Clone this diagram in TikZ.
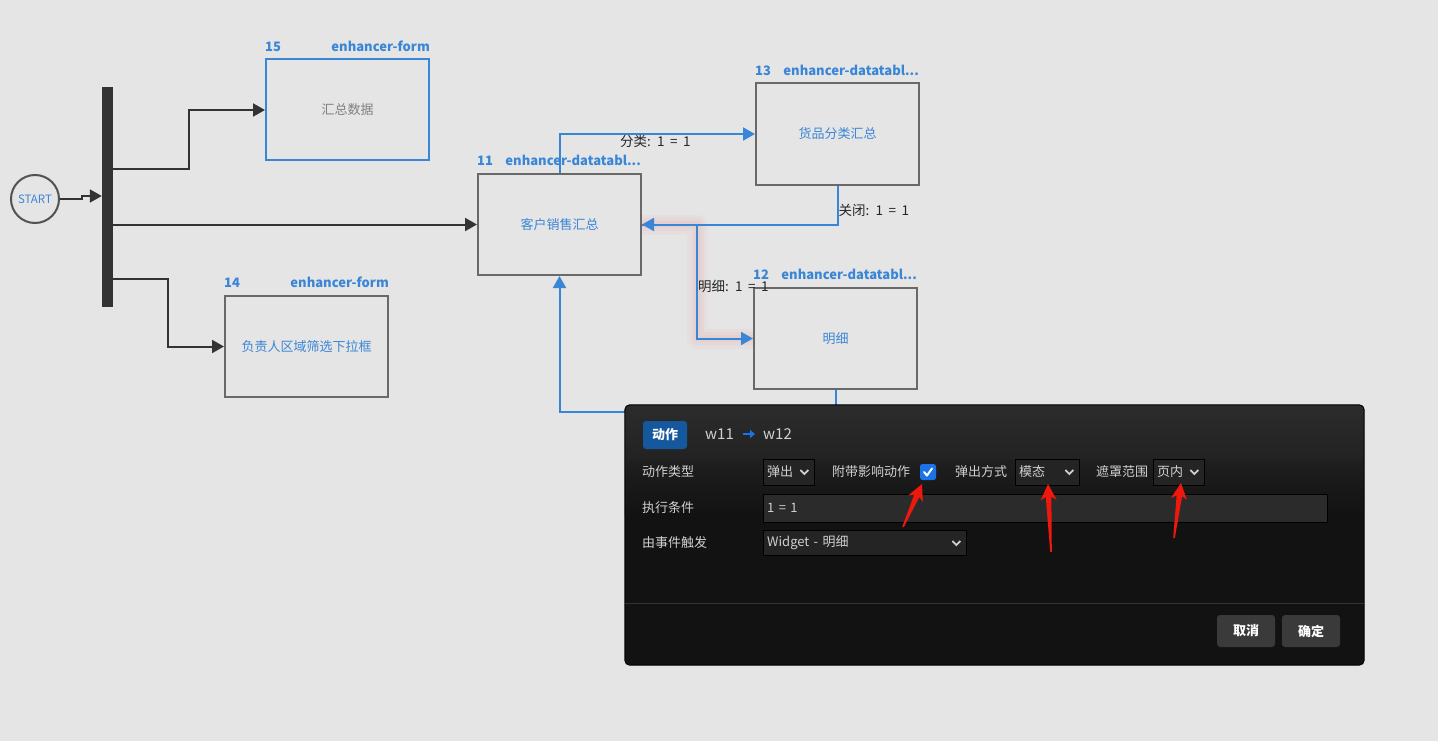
\documentclass[tikz,border=0pt]{standalone}
\usepackage{fontspec}
\setmainfont{Noto Sans CJK SC}
\newfontfamily\edgefont{Noto Sans CJK SC}[WordSpace=1.8]
\usepackage{tikz}
\usetikzlibrary{arrows.meta,positioning,calc}
\definecolor{canvasgray}{RGB}{229,229,229}
\definecolor{flowblue}{RGB}{58,134,214}
\definecolor{boxgray}{RGB}{105,105,105}
\definecolor{linedark}{RGB}{51,51,51}
\definecolor{panelbg}{RGB}{18,18,18}
\definecolor{paneltop}{RGB}{44,44,44}
\definecolor{panelmid}{RGB}{34,34,34}
\definecolor{fieldbg}{RGB}{36,36,36}
\definecolor{inputbg}{RGB}{43,43,43}
\definecolor{paneltext}{RGB}{208,208,208}
\definecolor{btnblue}{RGB}{22,88,158}
\definecolor{btngray}{RGB}{58,58,58}
\definecolor{checkblue}{RGB}{26,115,232}
\definecolor{annred}{RGB}{238,24,12}
\newcommand{\px}[1]{\fontsize{#1pt}{#1pt}\selectfont}
\newcommand{\selchevron}[1]{\draw[chev] ($(#1.east)+(-14,-2)$) -- ++(4,4) -- ++(4,-4);}
\newcommand{\annarrow}[2]{%
  \coordinate (ab) at ($(#2)!13pt!(#1)$);
  \coordinate (ac) at ($(#2)!16pt!(#1)$);
  \fill[annred] ($(#1)!0.8pt!90:(#2)$) -- ($(ab)!2.8pt!90:(#2)$) -- ($(ac)!8pt!90:(#2)$) -- (#2)
    -- ($(ac)!8pt!-90:(#2)$) -- ($(ab)!2.8pt!-90:(#2)$) -- ($(#1)!0.8pt!-90:(#2)$) -- cycle;}

\begin{document}
\begin{tikzpicture}[
  x=1pt,y=-1pt,
  font=\px{13},
  wbox/.style={rectangle,draw=boxgray,line width=2pt,minimum width=163pt,minimum height=101pt,inner sep=0pt,text=flowblue},
  numlbl/.style={font=\px{13}\bfseries,text=flowblue,inner sep=0pt},
  darr/.style={-{Triangle[length=12pt,width=13pt]},line width=2pt,draw=linedark},
  barr/.style={-{Triangle[length=12pt,width=13pt]},line width=2pt,draw=flowblue},
  selglow/.style={line width=#1,draw=red!60!canvasgray,opacity=0.05,line join=round},
  elbl/.style={text=black!85,inner sep=0pt,font=\edgefont\px{13.5}},
  fieldlbl/.style={text=paneltext,inner sep=0pt,anchor=west},
  selbox/.style={draw=black,fill=fieldbg,text=paneltext,minimum height=26pt,text width=#1,align=left,inner xsep=4pt,inner ysep=0pt,anchor=west},
  chev/.style={draw=paneltext,line width=1.8pt},
  dlgbtn/.style={rectangle,rounded corners=3pt,fill=btngray,text=white,font=\px{13}\bfseries,minimum width=58pt,minimum height=32pt,inner sep=0pt}
]
\useasboundingbox (0,0) rectangle (1438,741);
\fill[canvasgray] (0,0) rectangle (1438,741);

% flow nodes
\node[circle,draw=linedark!85,line width=2pt,minimum size=48pt,inner sep=0pt,text=flowblue,font=\px{11.5}] (start) at (35,199) {START};
\node[rectangle,fill=linedark,minimum width=11pt,minimum height=220pt,inner sep=0pt] (bar) at (107.5,197) {};
\node[wbox,draw=flowblue,text=gray] (b15) at (347.5,110) {汇总数据};
\node[wbox] (b14) at (306.5,346.5) {负责人区域筛选下拉框};
\node[wbox] (b11) at (559.5,224.5) {客户销售汇总};
\node[wbox] (b13) at (837.5,134) {货品分类汇总};
\node[wbox] (b12) at (835.5,338.5) {明细};

\node[numlbl,above right=7pt and 0pt of b15.north west] (n15) {15};
\node[numlbl,above left=7pt and 0pt of b15.north east] (t15) {enhancer-form};
\node[numlbl,above right=7pt and 0pt of b14.north west] (n14) {14};
\node[numlbl,above left=7pt and 0pt of b14.north east] (t14) {enhancer-form};
\node[numlbl,above right=7pt and 0pt of b11.north west] (n11) {11};
\node[numlbl,above left=7pt and 1pt of b11.north east] (t11) {enhancer-datatabl...};
\node[numlbl,above right=7pt and 0pt of b13.north west] (n13) {13};
\node[numlbl,above left=7pt and 1pt of b13.north east] (t13) {enhancer-datatabl...};
\node[numlbl,above right=7pt and 0pt of b12.north west] (n12) {12};
\node[numlbl,above left=7pt and 1pt of b12.north east] (t12) {enhancer-datatabl...};

% start connectors
\draw[darr] (start.east) -- ++(22,0) |- (bar.west |- 0,196);
\draw[darr] (bar.east |- 0,169) -| (189,0 |- b15.west) -- (b15.west);
\draw[darr] (bar.east |- b11.west) -- (b11.west);
\draw[darr] (bar.east |- 0,279) -| (168,0 |- b14.west) -- (b14.west);

% actions
\draw[selglow=20pt] (b11.east) -| (697,0 |- b12.west) -- (b12.west);
\draw[selglow=13pt] (b11.east) -| (697,0 |- b12.west) -- (b12.west);
\draw[selglow=7pt] (b11.east) -| (697,0 |- b12.west) -- (b12.west);
\draw[barr] (b11.north) |- node[elbl,pos=0.745,below]{分类: 1 = 1} (b13.west);
\draw[barr] (b13.south) |- node[elbl,pos=0.32,anchor=west]{关闭: 1 = 1} (b11.east);
\draw[barr] (b11.east) -| node[elbl,pos=0.77,anchor=west]{明细: 1 = 1} (697,0 |- b12.west) -- (b12.west);
\draw[barr] (b12.south) -- ++(0,22) -| (b11.south);

% action dialog
\node[rectangle,rounded corners=5pt,fill=panelbg,minimum width=739pt,minimum height=260pt,inner sep=0pt] (dlg) at (994.5,535) {};
\begin{scope}
\clip[rounded corners=5pt] (dlg.north west) rectangle (dlg.south east);
\shade[top color=paneltop,bottom color=panelmid] (dlg.north west) rectangle ($(dlg.north east)+(0,56)$);
\shade[top color=panelmid!80!panelbg,bottom color=panelbg] ($(dlg.north west)+(0,56)$) rectangle ($(dlg.north east)+(0,110)$);
\end{scope}
\draw[black,line width=1pt,rounded corners=5pt] (dlg.north west) rectangle (dlg.south east);
\draw[line width=1pt,draw=black!80!white] (dlg.west |- 0,603) -- (dlg.east |- 0,603);

\node[rectangle,rounded corners=3pt,fill=btnblue,text=white,font=\px{13}\bfseries,minimum width=44pt,minimum height=28pt,inner sep=0pt] (act) at (665,435) {动作};
\node[text=paneltext,font=\px{15},inner sep=0pt,anchor=west] (w11) at (705,434) {w11};
\node[text=paneltext,font=\px{15},inner sep=0pt,anchor=west] (w12) at (763,434) {w12};
\draw[-{Triangle[length=5pt,width=8pt]},line width=2.6pt,draw=checkblue,shorten <=9pt,shorten >=8pt] (w11) -- (w12);

\node[fieldlbl] (ltype) at (642,472) {动作类型};
\node[selbox=43pt] (stype) at (763,472) {弹出};
\node[fieldlbl] (lside) at (832,472) {附带影响动作};
\node[rectangle,rounded corners=2.5pt,fill=checkblue,minimum size=16pt,inner sep=0pt] (cside) at (928,472) {};
\node[fieldlbl] (lmode) at (955,472) {弹出方式};
\node[selbox=56pt] (smode) at (1015,472) {模态};
\node[fieldlbl] (lmask) at (1096,472) {遮罩范围};
\node[selbox=43pt] (smask) at (1153,472) {页内};
\node[fieldlbl] (lcond) at (642,508) {执行条件};
\node[selbox=556pt,fill=inputbg,minimum height=28pt] (scond) at (763,508) {1 = 1};
\node[fieldlbl] (lfire) at (642,543) {由事件触发};
\node[selbox=195pt,minimum height=25pt] (sfire) at (763,543) {Widget - 明细};
\selchevron{stype}
\selchevron{smode}
\selchevron{smask}
\selchevron{sfire}
\draw[white,line width=2pt,line cap=round,line join=round] ($(cside.center)+(-4,0)$) -- ++(3,3.5) -- ++(5,-7);

\node[dlgbtn] (cancel) at (1246,631) {取消};
\node[dlgbtn] (confirm) at (1311,631) {确定};

% red marks
\coordinate (r1t) at (903,527);
\coordinate (r1h) at (922,484);
\coordinate (r2t) at (1051,552);
\coordinate (r2h) at (1048,484);
\coordinate (r3t) at (1174,538);
\coordinate (r3h) at (1181,483);
\annarrow{r1t}{r1h}
\annarrow{r2t}{r2h}
\annarrow{r3t}{r3h}
\end{tikzpicture}
\end{document}
